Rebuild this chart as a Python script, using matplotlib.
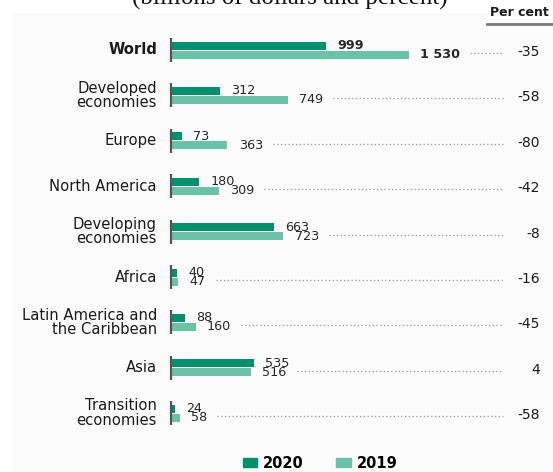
import matplotlib
matplotlib.use("Agg")
from matplotlib import pyplot as plt
from matplotlib.patches import Patch, Rectangle
import numpy as np

plt.rcParams['font.family'] = ['DejaVu Sans']

regions = ['World', 'Developed\neconomies', 'Europe', 'North America',
           'Developing\neconomies', 'Africa', 'Latin America and\nthe Caribbean',
           'Asia', 'Transition\neconomies']
fdi_2020 = [999, 312, 73, 180, 663, 40, 88, 535, 24]
fdi_2019 = [1530, 749, 363, 309, 723, 47, 160, 516, 58]
pct_change = [-35, -58, -80, -42, -8, -16, -45, 4, -58]
value_fmt = ['999', '312', '73', '180', '663', '40', '88', '535', '24']
value_fmt_19 = ['1 530', '749', '363', '309', '723', '47', '160', '516', '58']

dark = '#00906e'
light = '#6cc2a7'

W, H = 553, 472
X0 = 171.0              # pixel of the zero line
SCALE = 238.0 / 1530    # pixels per billion
ROW0, ROWGAP = 50.0, 45.4

fig = plt.figure(figsize=(W / 100, H / 100), dpi=100)
ax = fig.add_axes([0, 0, 1, 1])
ax.set_xlim(-X0 / SCALE, (W - X0) / SCALE)
ax.set_ylim((H - ROW0) / ROWGAP, -ROW0 / ROWGAP)
ax.axis('off')

def px_x(p):
    return (p - X0) / SCALE

def px_h(p):
    return p / ROWGAP

# faint panel behind the chart
ax.add_patch(Rectangle((px_x(13), px_h(13 - ROW0)), px_x(W) - px_x(13), px_h(H),
                       color='#fbfbfb', zorder=0, lw=0))

y = np.arange(len(regions))
off = px_h(4.5)
bh = px_h(8)
ax.barh(y - off, fdi_2020, height=bh, color=dark, zorder=2)
ax.barh(y + off, fdi_2019, height=bh, color=light, zorder=2)
for yi in y:
    ax.vlines(0, yi - px_h(12), yi + px_h(12), color='#555555', lw=1.6, zorder=3)

labels19 = []
for i, name in enumerate(regions):
    bold = 'bold' if i == 0 else 'normal'
    ax.text(px_x(157), y[i], name, ha='right', va='center', fontsize=10.6,
            color='#1a1a1a', fontweight=bold, linespacing=0.95)
    ax.annotate(value_fmt[i], (fdi_2020[i], y[i] - off), xytext=(8, 0),
                textcoords='offset points', ha='left', va='center',
                fontsize=9.2, color='#262626', fontweight=bold)
    t = ax.annotate(value_fmt_19[i], (fdi_2019[i], y[i] + off), xytext=(8, 0),
                    textcoords='offset points', ha='left', va='center',
                    fontsize=9.2, color='#262626', fontweight=bold)
    labels19.append(t)
    ax.text(px_x(540), y[i] + px_h(2), '%d' % pct_change[i], ha='right',
            va='center', fontsize=10, color='#1a1a1a')

# dotted leaders from the 2019 value to the percentage column
fig.canvas.draw()
inv = ax.transData.inverted()
for i, t in enumerate(labels19):
    bb = t.get_window_extent()
    x_start = inv.transform((bb.x1 + 10, 0))[0]
    ax.plot([x_start, px_x(503)], [y[i] + px_h(3)] * 2, color='#999999',
            lw=0.9, linestyle=(0, (1, 2)), zorder=1)

# column header
ax.text(px_x(490), px_h(13 - ROW0), 'Per cent', ha='left', va='center',
        fontsize=9, fontweight='bold', color='#1a1a1a')
ax.plot([px_x(487), px_x(W)], [px_h(24 - ROW0)] * 2, color='#777777', lw=2)

# subtitle, partly above the top edge
ax.text(px_x(290), px_h(5 - ROW0), '(billions of dollars and percent)',
        ha='center', va='baseline', fontsize=18, color='#111111',
        family='Liberation Serif')

handles = [Patch(color=dark, label='2020'), Patch(color=light, label='2019')]
fig.legend(handles=handles, ncol=2, loc='center', bbox_to_anchor=(320 / W, 1 - 463 / H),
           frameon=False, prop={'weight': 'bold', 'size': 10.5}, handlelength=1.0,
           handleheight=0.6, columnspacing=2.2, handletextpad=0.4)

fig.savefig('out.png', dpi=100)
